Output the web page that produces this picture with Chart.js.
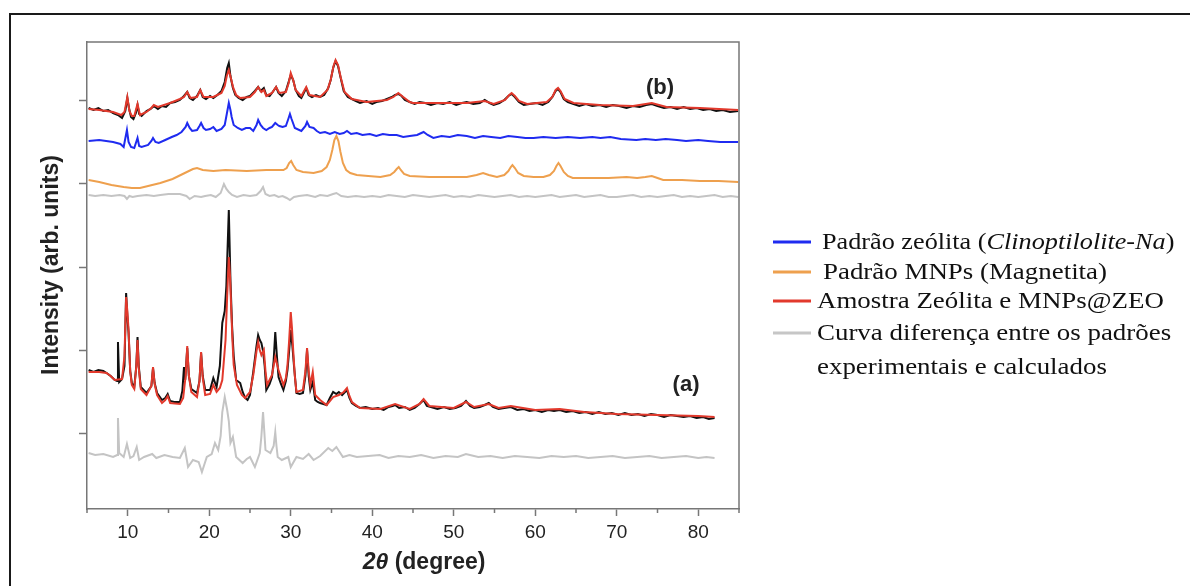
<!DOCTYPE html>
<html>
<head>
<meta charset="utf-8">
<script src="https://cdn.jsdelivr.net/npm/chart.js@4.4.1/dist/chart.umd.min.js"></script>
<style>
  html, body { margin: 0; padding: 0; background: #fff; overflow: hidden; }
  #wrap { position: relative; width: 1190px; height: 586px; }
  #frame { position: absolute; left: 9px; top: 13px; width: 1400px; height: 800px; border: 2px solid #1a1a1a; }
  canvas { position: absolute; left: 0; top: 0; }
</style>
</head>
<body>
<div id="wrap">
  <div id="frame"></div>
  <canvas id="xrdChart" width="1190" height="586"></canvas>
</div>
<script>
// 2theta (degree) vs intensity (arb. units), pairs of [2theta, intensity]
const xTicks = [10, 20, 30, 40, 50, 60, 70, 80];
const xMinorTicks = [5, 15, 25, 35, 45, 55, 65, 75, 85];
const yTicks = [83, 166, 249, 332, 415];

// (b) MNPs@ZEO experimental (black) and calculated (red)
const bExp = [[5.2,408],[5.8,406],[6.4,408],[7,405],[7.6,406],[8.2,403],[8.8,401],[9.3,398],[9.7,405],[9.95,418],[10.15,408],[10.4,399],[10.7,397],[11,403],[11.2,411],[11.4,402],[11.7,400],[12.3,405],[12.8,407],[13.2,410],[13.7,407],[14.2,410],[14.7,409],[15.2,413],[15.8,414],[16.4,416],[16.9,420],[17.3,424],[17.6,418],[18,416],[18.5,420],[18.9,426],[19.2,419],[19.6,417],[20.1,420],[20.5,418],[21,421],[21.5,425],[21.9,434],[22.2,448],[22.4,453],[22.6,440],[22.9,428],[23.2,421],[23.6,418],[24.1,416],[24.6,419],[25,420],[25.6,425],[26,429],[26.3,425],[26.7,428],[27,421],[27.4,420],[27.7,423],[28.2,429],[28.5,423],[28.9,420],[29.4,425],[29.7,433],[30,441],[30.3,436],[30.6,426],[31,420],[31.3,418],[31.9,428],[32.2,421],[32.6,419],[33.1,421],[33.6,419],[34.1,421],[34.6,428],[34.9,436],[35.2,448],[35.5,455],[35.8,450],[36.1,439],[36.5,425],[37,419],[37.5,417],[38,415],[38.5,413],[39.3,415],[40,412],[40.5,414],[41.2,415],[41.8,417],[42.4,419],[42.8,421],[43.2,422],[43.6,420],[44,416],[44.6,414],[45.2,412],[45.8,414],[46.5,413],[47.2,411],[48,413],[48.7,412],[49.5,414],[50.3,411],[51,413],[51.6,414],[52.4,412],[53.2,413],[53.8,416],[54.4,413],[54.9,411],[55.6,413],[56.2,416],[56.7,420],[57.1,422],[57.5,419],[58,414],[58.6,411],[59.3,412],[60.2,413],[60.9,411],[61.6,414],[62.1,419],[62.5,425],[62.8,427],[63.1,424],[63.5,417],[64,414],[64.7,412],[65.4,410],[66.2,412],[67,410],[67.9,411],[68.7,409],[69.5,411],[70.3,410],[71.2,408],[72,410],[72.8,409],[73.6,411],[74.3,412],[75,410],[75.8,408],[76.6,409],[77.4,407],[78.2,409],[79,407],[79.8,408],[80.6,406],[81.4,407],[82.2,405],[83,406],[83.9,404],[84.9,405]];
const bCalc = [[5.2,407],[6.5,406],[8.2,404],[9.2,401],[9.6,404],[9.95,419],[10.2,405],[10.5,400],[10.8,400],[11.2,412],[11.5,401],[12.3,404],[12.9,408],[13.2,411],[13.7,409],[15.2,413],[16.4,417],[16.9,419],[17.3,424],[17.7,418],[18.5,419],[18.9,426],[19.3,419],[20.5,419],[21.5,423],[21.9,430],[22.15,440],[22.4,446],[22.65,438],[22.95,428],[23.3,421],[23.8,418],[25,419],[25.6,424],[26,429],[26.4,424],[26.7,426],[27,420],[27.7,423],[28.2,429],[28.6,423],[29.4,424],[29.75,433],[30,443],[30.3,436],[30.6,426],[31.3,420],[31.9,429],[32.3,421],[33.6,419],[34.5,426],[34.9,436],[35.25,450],[35.5,456],[35.8,451],[36.15,438],[36.6,424],[37.5,417],[39.3,414],[41.8,416],[42.6,419],[43.2,423],[43.8,419],[44.6,414],[45,413],[47.5,413],[51.6,413],[53.8,415],[54.9,412],[56.3,416],[56.8,421],[57.1,423],[57.5,420],[58,415],[59,412],[61.4,414],[62.1,419],[62.5,426],[62.8,428],[63.1,425],[63.6,417],[64.7,413],[67.9,411],[72,410],[74.3,413],[76.1,409],[80.2,408],[84.9,406]];

// reference patterns
const zeoPattern = [[5.2,375],[6.5,376],[8.2,374],[9.1,372],[9.5,369],[9.9,386],[10.1,374],[10.4,369],[10.8,368],[11.2,378],[11.4,370],[11.7,369],[12.5,371],[12.9,375],[13.1,378],[13.4,374],[13.8,373],[14.6,376],[15.4,379],[16,381],[16.6,384],[17.1,389],[17.3,393],[17.6,388],[17.9,385],[18.5,386],[18.8,390],[19,393],[19.3,388],[19.6,386],[20.1,387],[20.5,389],[20.9,385],[21.5,387],[21.9,391],[22.15,402],[22.4,413],[22.6,406],[22.75,399],[23,391],[23.5,388],[24,386],[24.5,388],[25,388],[25.4,385],[25.8,391],[26,396],[26.3,391],[26.6,388],[27,386],[27.4,388],[27.7,389],[28.1,393],[28.4,391],[28.6,390],[29,389],[29.4,390],[29.7,397],[29.9,402],[30.1,397],[30.5,388],[31.3,385],[31.8,390],[32,394],[32.3,389],[32.8,388],[33.2,385],[33.6,383],[34.2,384],[34.8,382],[35.4,384],[36,382],[36.5,383],[36.9,385],[37.4,382],[38.1,383],[38.8,381],[39.7,382],[40.5,380],[41.3,382],[42.1,381],[43,381],[43.8,379],[44.6,380],[45.5,381],[46.3,384],[46.8,381],[47.5,378],[48.5,380],[49.5,379],[50.5,381],[51.6,380],[52.6,378],[53.6,380],[54.6,379],[55.7,378],[56.7,380],[57.8,379],[58.8,378],[59.8,378],[61,379],[62.5,378],[64,379],[65.5,378],[67,379],[68,378],[69.2,379],[70.5,377],[72.4,376],[73.5,377],[74.8,376],[76,377],[77.4,376],[78.5,375],[80,376],[81.2,375],[82.7,374],[84.9,374]];
const mnpPattern = [[5.2,336],[6.5,334],[8,331],[9.5,329],[10.5,328],[11.5,328],[12.5,330],[14,333],[15.5,337],[17,343],[18,347],[18.5,348],[19.2,346],[20.5,345],[22,346],[24.6,345],[27,346],[29.1,346],[29.5,348],[29.8,353],[30.05,355],[30.3,351],[30.7,346],[31.5,344],[32.8,343],[33.8,345],[34.4,349],[34.8,356],[35.1,366],[35.35,376],[35.6,380],[35.85,375],[36.1,364],[36.4,353],[36.8,346],[37.3,343],[38.1,341],[39.5,340],[41,339],[42.2,341],[42.7,344],[43,347],[43.25,349],[43.5,346],[43.9,342],[44.6,340],[47,339],[49.5,339],[51.6,339],[52.8,341],[53.6,343],[54.3,341],[55.3,339],[56.2,341],[56.7,345],[57,349],[57.2,351],[57.5,348],[57.9,343],[58.6,340],[59.8,339],[61,339],[61.8,341],[62.3,345],[62.6,350],[62.85,353],[63.1,350],[63.5,344],[64,340],[64.6,338],[67,338],[69,338],[71.2,339],[72.5,338],[73.5,339],[74.3,340],[75,338],[75.7,336],[78,336],[80.2,335],[82.5,335],[84.9,334]];
const bDiff = [[5.2,321],[6,320],[7,321],[8,320],[9,321],[9.6,320],[9.9,317],[10.2,320],[10.6,319],[11.2,320],[12.3,321],[13.2,320],[14,321],[15,322],[16.4,322],[17.2,320],[17.6,317],[18.2,320],[19,319],[19.5,320],[20.2,321],[20.8,319],[21.4,323],[21.8,332],[22.1,327],[22.4,324],[22.8,321],[23.4,319],[24.2,321],[25,320],[25.8,321],[26.3,325],[26.6,329],[26.9,322],[27.4,320],[28,321],[28.5,319],[29,320],[29.5,318],[29.9,316],[30.4,319],[31,320],[32,321],[33,319],[33.6,321],[34.5,320],[35.2,322],[35.6,323],[36.2,320],[37,319],[38,320],[39,319],[40,320],[41,319],[42,321],[43,320],[44,319],[45,321],[46,320],[47,319],[48,320],[49,321],[50,319],[51,320],[52,319],[53,321],[54,320],[55,319],[56,320],[57,321],[58,319],[59,320],[60,319],[61,320],[62,321],[63,319],[64,320],[65,321],[66,319],[67,320],[68,321],[69,319],[70,319],[71,320],[72,321],[73,319],[74,320],[75,319],[76,320],[77,321],[78,319],[79,320],[80,319],[81,320],[82,321],[83,319],[84,320],[84.9,319]];

// (a) zeolite experimental (black), calculated (red) and difference (gray)
const aExp = [[5.2,146],[5.8,144],[6.4,146],[7,145],[7.4,143],[7.9,140],[8.4,136],[8.7,135],[8.8,174],[8.95,134],[9.3,137],[9.6,150],[9.8,223],[9.95,200],[10.1,183],[10.3,145],[10.5,133],[10.8,129],[11.05,150],[11.2,179],[11.35,150],[11.6,129],[12.3,123],[12.9,130],[13.1,148],[13.3,133],[13.6,123],[14.2,116],[14.6,118],[14.9,122],[15.2,115],[15.7,114],[16.4,114],[16.7,125],[16.9,149],[17.05,136],[17.3,168],[17.5,140],[17.8,127],[18.5,123],[18.8,135],[19,163],[19.2,140],[19.5,126],[20.1,126],[20.5,138],[20.9,129],[21.3,150],[21.6,193],[21.9,205],[22.1,230],[22.4,306],[22.6,236],[22.8,190],[23,160],[23.3,136],[23.8,133],[24.1,124],[24.4,118],[24.7,116],[25,121],[25.4,144],[25.8,170],[26,181],[26.2,176],[26.4,173],[26.6,165],[26.8,150],[27,126],[27.4,132],[27.7,139],[27.9,155],[28.1,184],[28.3,160],[28.5,139],[28.8,132],[29.1,126],[29.4,135],[29.6,146],[29.8,165],[30,186],[30.2,170],[30.4,150],[30.7,123],[31.1,122],[31.5,123],[31.8,140],[32,166],[32.2,140],[32.4,126],[32.7,134],[33,116],[33.3,114],[33.6,113],[34,112],[34.4,111],[34.8,118],[35.2,124],[35.6,122],[35.9,124],[36.3,121],[36.9,126],[37.2,118],[37.5,113],[38,110],[38.5,108],[39.2,109],[40,107],[40.7,108],[41.4,106],[42,109],[42.5,110],[42.8,111],[43.3,108],[44,109],[44.6,106],[45.2,108],[45.8,112],[46.3,116],[46.7,110],[47.2,109],[48,107],[48.8,109],[49.5,107],[50.2,108],[50.9,110],[51.5,115],[52,110],[52.5,108],[53.2,109],[53.8,111],[54.3,113],[54.8,109],[55.5,107],[56.2,108],[57,109],[57.8,106],[58.6,107],[59.3,105],[60,106],[60.8,104],[61.6,106],[62.3,105],[63,106],[63.8,104],[64.6,105],[65.4,103],[66.2,104],[67,102],[67.8,104],[68.6,102],[69.4,103],[70.2,101],[71,103],[71.8,101],[72.6,102],[73.4,100],[74.2,102],[75,101],[75.8,99],[76.6,101],[77.4,100],[78.2,99],[79,100],[79.8,98],[80.6,99],[81.3,97],[82,98]];
const aCalc = [[5.2,144],[6.5,144],[7.4,143],[7.9,140],[8.4,136],[9.3,137],[9.6,160],[9.8,219],[9.95,205],[10.1,186],[10.3,145],[10.5,131],[10.8,127],[11.05,150],[11.2,176],[11.35,148],[11.6,127],[12.3,121],[12.9,130],[13.1,149],[13.3,132],[13.6,121],[14.2,113],[14.6,116],[14.9,120],[15.2,113],[16.4,112],[16.8,118],[17.1,140],[17.3,170],[17.5,140],[17.8,124],[18.5,119],[18.8,135],[19,164],[19.2,138],[19.5,121],[20.1,122],[20.5,131],[20.9,124],[21.3,128],[21.6,136],[22,176],[22.2,220],[22.4,259],[22.55,240],[22.7,206],[22.85,175],[23,151],[23.4,131],[24,121],[24.4,118],[25,124],[25.4,141],[25.8,165],[26,174],[26.2,166],[26.4,161],[26.7,166],[26.9,145],[27.1,131],[27.7,141],[28.1,159],[28.5,146],[29.1,131],[29.4,138],[29.6,151],[29.8,175],[30,204],[30.15,188],[30.3,166],[30.5,140],[30.7,124],[31.5,126],[31.8,145],[32,168],[32.2,145],[32.4,131],[32.7,144],[33,121],[33.6,116],[34.4,111],[35.2,119],[35.9,121],[36.5,124],[36.9,128],[37.2,120],[37.5,114],[38.5,108],[41,107],[42.8,112],[44.6,107],[45.8,112],[46.3,117],[47,110],[50,108],[51.5,114],[52.5,109],[54.3,112],[55.5,108],[57,110],[60,106],[63,107],[66,104],[70,102],[75,101],[80,100],[82,99]];
const aDiff = [[5.2,63],[6,61],[7,62],[8.2,59],[8.7,61],[8.8,98],[8.95,63],[9.5,59],[9.9,72],[10.3,58],[10.7,60],[11.1,69],[11.4,56],[12,59],[13,62],[13.5,58],[14.5,61],[15.5,59],[16.4,58],[17,68],[17.4,49],[18,56],[18.7,54],[19.1,44],[19.7,59],[20.3,62],[20.7,73],[21.1,66],[21.4,80],[21.6,104],[21.9,119],[22.2,106],[22.4,95],[22.6,73],[22.9,79],[23.3,59],[24.1,53],[24.6,57],[25,59],[25.6,49],[26.2,63],[26.4,80],[26.6,104],[26.75,85],[26.9,66],[27.5,63],[27.9,70],[28.1,84],[28.25,70],[28.4,59],[28.9,56],[29.7,59],[30,49],[30.7,59],[31.5,57],[32.2,62],[32.8,56],[33.6,60],[34.6,68],[35.1,65],[35.6,69],[36.4,59],[37.2,61],[38.1,59],[39.5,60],[40.9,61],[42,58],[43.2,60],[44.6,59],[46,61],[47.5,58],[49,60],[50.5,59],[51.5,62],[53,59],[54.5,60],[56,58],[57.5,60],[59,59],[60.5,58],[62,60],[63.5,59],[65,60],[66.5,58],[68,59],[69.5,60],[71,58],[72.5,59],[74,60],[75.5,58],[77,59],[78.5,60],[80,58],[81,59],[82,58]];

const legendItems = [
  { color: '#1f2bf0', x: 822, y: 242, stretch: 1.14, parts: [['Padrão zeólita (', false], ['Clinoptilolite-Na', true], [')', false]] },
  { color: '#eea04e', x: 823, y: 272, stretch: 1.17, parts: [['Padrão MNPs (Magnetita)', false]] },
  { color: '#e2392c', x: 817, y: 301, stretch: 1.17, parts: [['Amostra Zeólita e MNPs@ZEO', false]] },
  { color: '#c6c6c6', x: 817, y: 333, stretch: 1.17, parts: [['Curva diferença entre os padrões', false]] },
  { color: null, x: 817, y: 367, stretch: 1.17, parts: [['experimentais e calculados', false]] }
];

const sans = '"Liberation Sans", Arial, sans-serif';
const serif = '"Liberation Serif", "Times New Roman", serif';

function line(label, pairs, color, order) {
  return {
    label: label,
    data: pairs.map(p => ({ x: p[0], y: p[1] })),
    borderColor: color,
    borderWidth: 2,
    pointRadius: 0,
    tension: 0,
    fill: false,
    order: order
  };
}

const decor = {
  id: 'decor',
  afterDraw(chart) {
    const ctx = chart.ctx;
    const a = chart.chartArea;
    const xs = chart.scales.x;
    const ys = chart.scales.y;
    ctx.save();

    // top and right edges of the plot box, minor ticks
    ctx.strokeStyle = '#777';
    ctx.lineWidth = 1.5;
    ctx.beginPath();
    ctx.moveTo(a.left, a.top);
    ctx.lineTo(a.right, a.top);
    ctx.lineTo(a.right, a.bottom);
    xMinorTicks.forEach(v => {
      const px = xs.getPixelForValue(v);
      ctx.moveTo(px, a.bottom);
      ctx.lineTo(px, a.bottom + 4);
    });
    ctx.stroke();

    // panel labels
    ctx.fillStyle = '#222';
    ctx.font = 'bold 22px ' + sans;
    ctx.textAlign = 'center';
    ctx.textBaseline = 'middle';
    ctx.fillText('(b)', xs.getPixelForValue(75.3), ys.getPixelForValue(428));
    ctx.fillText('(a)', xs.getPixelForValue(78.5), ys.getPixelForValue(131));

    // x title: italic 2θ + (degree)
    const f1 = 'italic bold 23px ' + sans;
    const f2 = 'bold 23px ' + sans;
    ctx.font = f1;
    const w1 = ctx.measureText('2θ').width;
    ctx.font = f2;
    const w2 = ctx.measureText(' (degree)').width;
    const tx = 424 - (w1 + w2) / 2;
    ctx.textAlign = 'left';
    ctx.font = f1;
    ctx.fillText('2θ', tx, 563);
    ctx.font = f2;
    ctx.fillText(' (degree)', tx + w1, 563);

    // y title
    ctx.save();
    ctx.translate(52, 265);
    ctx.rotate(-Math.PI / 2);
    ctx.textAlign = 'center';
    ctx.font = 'bold 23px ' + sans;
    ctx.fillText('Intensity (arb. units)', 0, 0);
    ctx.restore();

    // legend
    legendItems.forEach(item => {
      if (item.color) {
        ctx.strokeStyle = item.color;
        ctx.lineWidth = 3;
        ctx.beginPath();
        ctx.moveTo(773, item.y);
        ctx.lineTo(811, item.y);
        ctx.stroke();
      }
      ctx.save();
      ctx.translate(item.x, item.y);
      ctx.scale(item.stretch, 1);
      ctx.fillStyle = '#111';
      ctx.textAlign = 'left';
      ctx.textBaseline = 'middle';
      let cx = 0;
      item.parts.forEach(p => {
        ctx.font = (p[1] ? 'italic ' : '') + '23px ' + serif;
        ctx.fillText(p[0], cx, 1);
        cx += ctx.measureText(p[0]).width;
      });
      ctx.restore();
    });

    ctx.restore();
  }
};

new Chart('xrdChart', {
  type: 'line',
  data: {
    datasets: [
      line('Zeólita calc.', aCalc, '#e2392c', 0),
      line('Zeólita exp.', aExp, '#111111', 1),
      line('Diferença (a)', aDiff, '#c4c4c4', 2),
      line('MNPs@ZEO calc.', bCalc, '#e2392c', 0),
      line('MNPs@ZEO exp.', bExp, '#111111', 1),
      line('Padrão zeólita', zeoPattern, '#1f2bf0', 2),
      line('Padrão MNPs', mnpPattern, '#eea04e', 2),
      line('Diferença (b)', bDiff, '#c4c4c4', 2)
    ]
  },
  options: {
    responsive: false,
    animation: false,
    layout: { padding: { top: 42, right: 451, left: 0, bottom: 0 } },
    plugins: {
      legend: { display: false },
      tooltip: { enabled: false }
    },
    scales: {
      x: {
        type: 'linear',
        min: 5,
        max: 85,
        afterBuildTicks: axis => { axis.ticks = xTicks.map(v => ({ value: v })); },
        afterFit: axis => { axis.height = 77; },
        ticks: { font: { family: sans, size: 19 }, color: '#222', padding: 5, maxRotation: 0 },
        grid: { drawOnChartArea: false, tickLength: 7, color: '#777', tickWidth: 1.5 },
        border: { color: '#777', width: 1.5 }
      },
      y: {
        type: 'linear',
        min: 7,
        max: 474,
        afterBuildTicks: axis => { axis.ticks = yTicks.map(v => ({ value: v })); },
        afterFit: axis => { axis.width = 87; },
        ticks: { callback: () => '' },
        grid: { drawOnChartArea: false, tickLength: 8, color: '#777', tickWidth: 1.5 },
        border: { color: '#777', width: 1.5 }
      }
    }
  },
  plugins: [decor]
});
</script>
</body>
</html>
